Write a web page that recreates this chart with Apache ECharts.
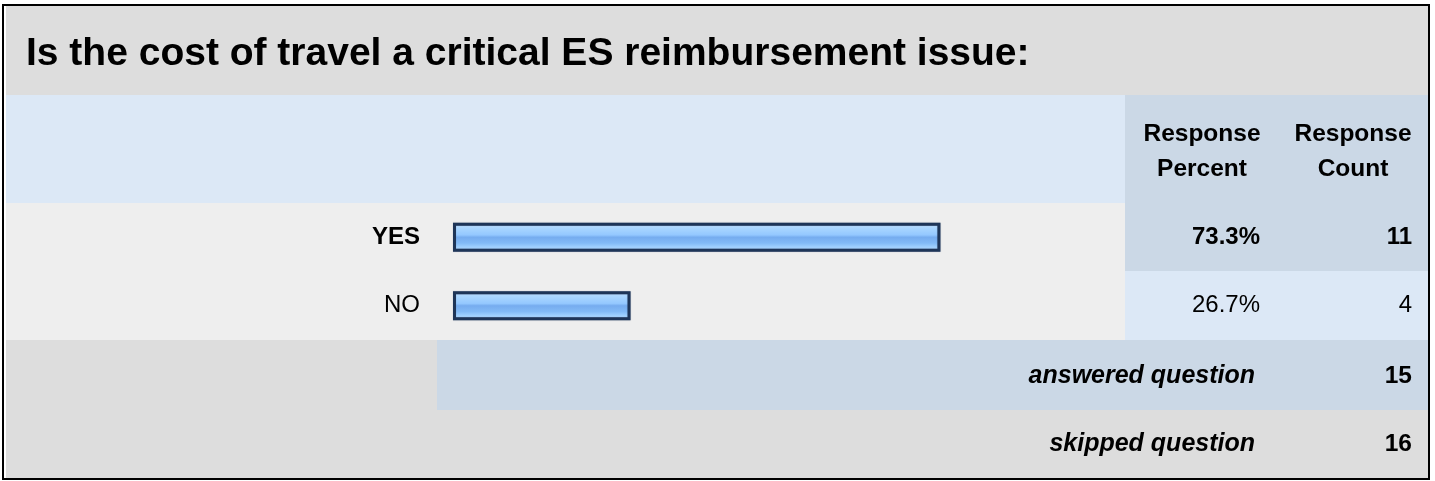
<!DOCTYPE html>
<html lang="en">
<head>
    <meta charset="UTF-8">
    <title>ES reimbursement survey</title>
    <script src="https://cdn.jsdelivr.net/npm/echarts@6/dist/echarts.min.js"></script>
    <style>
        html, body { margin: 0; padding: 0; background: #fff; }
    </style>
</head>
<body>
    <div id="main" style="width: 1435px;height:481px"></div>
<script>
    // survey data
    var titleText = 'Is the cost of travel a critical ES reimbursement issue:';
    var categories = ['YES', 'NO'];
    var percents = [73.3, 26.7];
    var counts = [11, 4];
    var answeredCount = 15;
    var skippedCount = 16;

    var FONT = '"Liberation Sans", Arial, sans-serif';

    var chart = echarts.init(document.getElementById('main'));

    // bold for the leading answer, like the source table
    var maxIdx = percents.indexOf(Math.max.apply(null, percents));
    function rowText(idx, txt) {
        return idx === maxIdx ? '{b|' + txt + '}' : '{n|' + txt + '}';
    }
    var richTxt = {
        b: { fontFamily: FONT, fontSize: 24, fontWeight: 'bold', color: '#000' },
        n: { fontFamily: FONT, fontSize: 24, color: '#000' }
    };

    function bg(x, y, w, h, color) {
        return { type: 'rect', z: -10, silent: true, shape: { x: x, y: y, width: w, height: h }, style: { fill: color } };
    }
    function txt(x, y, text, align, style) {
        return {
            type: 'text', x: x, y: y, z: 5, silent: true,
            style: Object.assign({
                text: text, align: align, verticalAlign: 'middle',
                font: 'bold 24.5px ' + FONT, fill: '#000'
            }, style || {})
        };
    }

    var option = {
        backgroundColor: '#fff',
        animation: false,
        title: {
            text: titleText,
            left: 21,
            top: 30,
            textStyle: { fontFamily: FONT, fontSize: 39, fontWeight: 'bold', color: '#000' }
        },
        graphic: [
            bg(6, 6, 1422, 89, '#dddddd'),
            bg(6, 95, 1119, 108, '#dce8f6'),
            bg(1125, 95, 303, 108, '#cbd8e6'),
            bg(6, 203, 1119, 137, '#eeeeee'),
            bg(1125, 203, 303, 68, '#cbd8e6'),
            bg(1125, 271, 303, 69, '#dce8f6'),
            bg(6, 340, 431, 70, '#dddddd'),
            bg(437, 340, 991, 70, '#cbd8e6'),
            bg(6, 410, 1422, 68, '#dddddd'),
            {
                type: 'rect', z: 10, silent: true,
                shape: { x: 3, y: 5, width: 1426, height: 474 },
                style: { fill: null, stroke: '#000', lineWidth: 2 }
            },
            txt(1202, 134, 'Response', 'center'),
            txt(1202, 169, 'Percent', 'center'),
            txt(1353, 134, 'Response', 'center'),
            txt(1353, 169, 'Count', 'center'),
            txt(1255, 376, 'answered question', 'right', { font: 'italic bold 25px ' + FONT }),
            txt(1412, 376, String(answeredCount), 'right'),
            txt(1255, 444, 'skipped question', 'right', { font: 'italic bold 25px ' + FONT }),
            txt(1412, 444, String(skippedCount), 'right')
        ],
        grid: {
            left: 453,
            top: 203,
            width: 665,
            height: 137
        },
        xAxis: {
            type: 'value',
            min: 0,
            max: 100,
            show: false
        },
        yAxis: [{
            type: 'category',
            inverse: true,
            data: categories,
            axisLine: { show: false },
            axisTick: { show: false },
            axisLabel: {
                margin: 33,
                formatter: function(v, i) { return rowText(i, v); },
                rich: richTxt
            }
        }, {
            type: 'category',
            inverse: true,
            position: 'right',
            data: categories,
            axisLine: { show: false },
            axisTick: { show: false },
            axisLabel: {
                margin: 142,
                align: 'right',
                formatter: function(v, i) { return rowText(i, percents[i].toFixed(1) + '%'); },
                rich: richTxt
            }
        }, {
            type: 'category',
            inverse: true,
            position: 'right',
            data: categories,
            axisLine: { show: false },
            axisTick: { show: false },
            axisLabel: {
                margin: 294,
                align: 'right',
                formatter: function(v, i) { return rowText(i, String(counts[i])); },
                rich: richTxt
            }
        }],
        series: [{
            type: 'bar',
            yAxisIndex: 0,
            barWidth: 29,
            data: percents,
            itemStyle: {
                color: {
                    type: 'linear', x: 0, y: 0, x2: 0, y2: 1,
                    colorStops: [
                        { offset: 0, color: '#d2e8ff' },
                        { offset: 0.18, color: '#aad6ff' },
                        { offset: 0.42, color: '#94c8ff' },
                        { offset: 0.5, color: '#76acef' },
                        { offset: 0.7, color: '#82baf6' },
                        { offset: 0.85, color: '#a2d2ff' },
                        { offset: 1, color: '#c2e2ff' }
                    ]
                },
                borderColor: '#1e3558',
                borderWidth: 3,
                shadowColor: 'rgba(30,53,88,0.45)',
                shadowBlur: 1
            }
        }]
    };
    chart.setOption(option);
</script>
</body>
</html>
